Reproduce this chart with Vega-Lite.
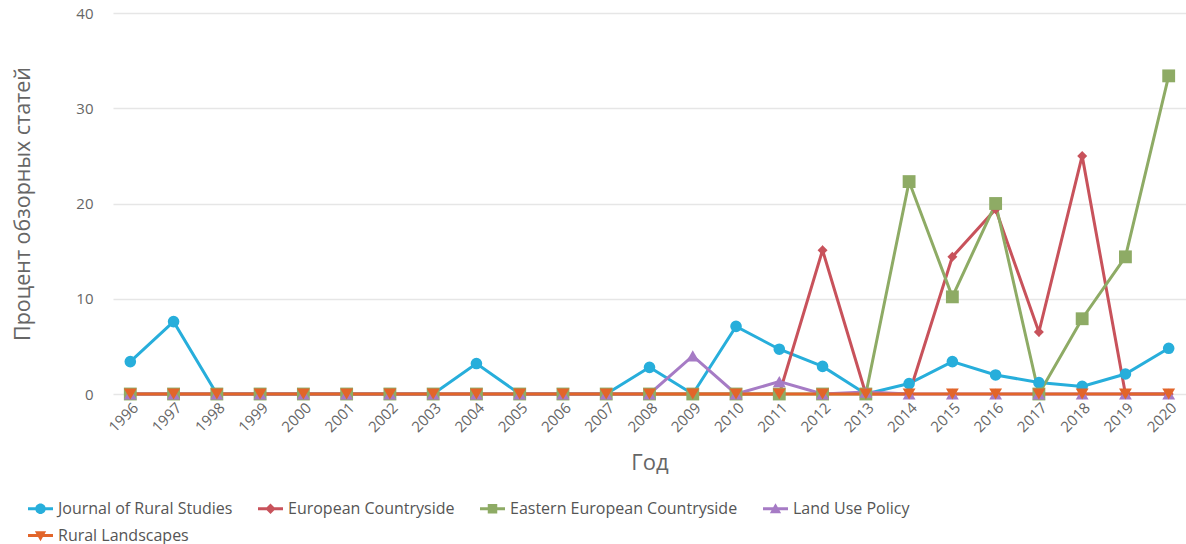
{
  "$schema": "https://vega.github.io/schema/vega-lite/v6.json",
  "width": 1073,
  "height": 381,
  "autosize": {"type": "none"},
  "padding": {"left": 113, "top": 13, "right": 0, "bottom": 150},
  "config": {
    "font": "Open Sans",
    "view": {"stroke": null},
    "axis": {"labelColor": "#666666", "titleColor": "#666666", "titleFontWeight": "normal"}
  },
  "datasets": {
    "rows": [
      {"series": "Journal of Rural Studies", "year": "1996", "value": 3.4},
      {"series": "Journal of Rural Studies", "year": "1997", "value": 7.6},
      {"series": "Journal of Rural Studies", "year": "1998", "value": 0},
      {"series": "Journal of Rural Studies", "year": "1999", "value": 0},
      {"series": "Journal of Rural Studies", "year": "2000", "value": 0},
      {"series": "Journal of Rural Studies", "year": "2001", "value": 0},
      {"series": "Journal of Rural Studies", "year": "2002", "value": 0},
      {"series": "Journal of Rural Studies", "year": "2003", "value": 0},
      {"series": "Journal of Rural Studies", "year": "2004", "value": 3.2},
      {"series": "Journal of Rural Studies", "year": "2005", "value": 0},
      {"series": "Journal of Rural Studies", "year": "2006", "value": 0},
      {"series": "Journal of Rural Studies", "year": "2007", "value": 0},
      {"series": "Journal of Rural Studies", "year": "2008", "value": 2.8},
      {"series": "Journal of Rural Studies", "year": "2009", "value": 0},
      {"series": "Journal of Rural Studies", "year": "2010", "value": 7.1},
      {"series": "Journal of Rural Studies", "year": "2011", "value": 4.7},
      {"series": "Journal of Rural Studies", "year": "2012", "value": 2.9},
      {"series": "Journal of Rural Studies", "year": "2013", "value": 0},
      {"series": "Journal of Rural Studies", "year": "2014", "value": 1.1},
      {"series": "Journal of Rural Studies", "year": "2015", "value": 3.4},
      {"series": "Journal of Rural Studies", "year": "2016", "value": 2.0},
      {"series": "Journal of Rural Studies", "year": "2017", "value": 1.2},
      {"series": "Journal of Rural Studies", "year": "2018", "value": 0.8},
      {"series": "Journal of Rural Studies", "year": "2019", "value": 2.1},
      {"series": "Journal of Rural Studies", "year": "2020", "value": 4.8},

      {"series": "European Countryside", "year": "1996", "value": 0},
      {"series": "European Countryside", "year": "1997", "value": 0},
      {"series": "European Countryside", "year": "1998", "value": 0},
      {"series": "European Countryside", "year": "1999", "value": 0},
      {"series": "European Countryside", "year": "2000", "value": 0},
      {"series": "European Countryside", "year": "2001", "value": 0},
      {"series": "European Countryside", "year": "2002", "value": 0},
      {"series": "European Countryside", "year": "2003", "value": 0},
      {"series": "European Countryside", "year": "2004", "value": 0},
      {"series": "European Countryside", "year": "2005", "value": 0},
      {"series": "European Countryside", "year": "2006", "value": 0},
      {"series": "European Countryside", "year": "2007", "value": 0},
      {"series": "European Countryside", "year": "2008", "value": 0},
      {"series": "European Countryside", "year": "2009", "value": 0},
      {"series": "European Countryside", "year": "2010", "value": 0},
      {"series": "European Countryside", "year": "2011", "value": 0},
      {"series": "European Countryside", "year": "2012", "value": 15.1},
      {"series": "European Countryside", "year": "2013", "value": 0},
      {"series": "European Countryside", "year": "2014", "value": 0},
      {"series": "European Countryside", "year": "2015", "value": 14.4},
      {"series": "European Countryside", "year": "2016", "value": 19.4},
      {"series": "European Countryside", "year": "2017", "value": 6.5},
      {"series": "European Countryside", "year": "2018", "value": 25.0},
      {"series": "European Countryside", "year": "2019", "value": 0},
      {"series": "European Countryside", "year": "2020", "value": 0},

      {"series": "Eastern European Countryside", "year": "1996", "value": 0},
      {"series": "Eastern European Countryside", "year": "1997", "value": 0},
      {"series": "Eastern European Countryside", "year": "1998", "value": 0},
      {"series": "Eastern European Countryside", "year": "1999", "value": 0},
      {"series": "Eastern European Countryside", "year": "2000", "value": 0},
      {"series": "Eastern European Countryside", "year": "2001", "value": 0},
      {"series": "Eastern European Countryside", "year": "2002", "value": 0},
      {"series": "Eastern European Countryside", "year": "2003", "value": 0},
      {"series": "Eastern European Countryside", "year": "2004", "value": 0},
      {"series": "Eastern European Countryside", "year": "2005", "value": 0},
      {"series": "Eastern European Countryside", "year": "2006", "value": 0},
      {"series": "Eastern European Countryside", "year": "2007", "value": 0},
      {"series": "Eastern European Countryside", "year": "2008", "value": 0},
      {"series": "Eastern European Countryside", "year": "2009", "value": 0},
      {"series": "Eastern European Countryside", "year": "2010", "value": 0},
      {"series": "Eastern European Countryside", "year": "2011", "value": 0},
      {"series": "Eastern European Countryside", "year": "2012", "value": 0},
      {"series": "Eastern European Countryside", "year": "2013", "value": 0},
      {"series": "Eastern European Countryside", "year": "2014", "value": 22.3},
      {"series": "Eastern European Countryside", "year": "2015", "value": 10.2},
      {"series": "Eastern European Countryside", "year": "2016", "value": 20.0},
      {"series": "Eastern European Countryside", "year": "2017", "value": 0},
      {"series": "Eastern European Countryside", "year": "2018", "value": 7.9},
      {"series": "Eastern European Countryside", "year": "2019", "value": 14.4},
      {"series": "Eastern European Countryside", "year": "2020", "value": 33.4},

      {"series": "Land Use Policy", "year": "1996", "value": 0},
      {"series": "Land Use Policy", "year": "1997", "value": 0},
      {"series": "Land Use Policy", "year": "1998", "value": 0},
      {"series": "Land Use Policy", "year": "1999", "value": 0},
      {"series": "Land Use Policy", "year": "2000", "value": 0},
      {"series": "Land Use Policy", "year": "2001", "value": 0},
      {"series": "Land Use Policy", "year": "2002", "value": 0},
      {"series": "Land Use Policy", "year": "2003", "value": 0},
      {"series": "Land Use Policy", "year": "2004", "value": 0},
      {"series": "Land Use Policy", "year": "2005", "value": 0},
      {"series": "Land Use Policy", "year": "2006", "value": 0},
      {"series": "Land Use Policy", "year": "2007", "value": 0},
      {"series": "Land Use Policy", "year": "2008", "value": 0},
      {"series": "Land Use Policy", "year": "2009", "value": 4.0},
      {"series": "Land Use Policy", "year": "2010", "value": 0},
      {"series": "Land Use Policy", "year": "2011", "value": 1.3},
      {"series": "Land Use Policy", "year": "2012", "value": 0},
      {"series": "Land Use Policy", "year": "2013", "value": 0.2},
      {"series": "Land Use Policy", "year": "2014", "value": 0},
      {"series": "Land Use Policy", "year": "2015", "value": 0},
      {"series": "Land Use Policy", "year": "2016", "value": 0},
      {"series": "Land Use Policy", "year": "2017", "value": 0},
      {"series": "Land Use Policy", "year": "2018", "value": 0},
      {"series": "Land Use Policy", "year": "2019", "value": 0},
      {"series": "Land Use Policy", "year": "2020", "value": 0},

      {"series": "Rural Landscapes", "year": "1996", "value": 0},
      {"series": "Rural Landscapes", "year": "1997", "value": 0},
      {"series": "Rural Landscapes", "year": "1998", "value": 0},
      {"series": "Rural Landscapes", "year": "1999", "value": 0},
      {"series": "Rural Landscapes", "year": "2000", "value": 0},
      {"series": "Rural Landscapes", "year": "2001", "value": 0},
      {"series": "Rural Landscapes", "year": "2002", "value": 0},
      {"series": "Rural Landscapes", "year": "2003", "value": 0},
      {"series": "Rural Landscapes", "year": "2004", "value": 0},
      {"series": "Rural Landscapes", "year": "2005", "value": 0},
      {"series": "Rural Landscapes", "year": "2006", "value": 0},
      {"series": "Rural Landscapes", "year": "2007", "value": 0},
      {"series": "Rural Landscapes", "year": "2008", "value": 0},
      {"series": "Rural Landscapes", "year": "2009", "value": 0},
      {"series": "Rural Landscapes", "year": "2010", "value": 0},
      {"series": "Rural Landscapes", "year": "2011", "value": 0},
      {"series": "Rural Landscapes", "year": "2012", "value": 0},
      {"series": "Rural Landscapes", "year": "2013", "value": 0},
      {"series": "Rural Landscapes", "year": "2014", "value": 0},
      {"series": "Rural Landscapes", "year": "2015", "value": 0},
      {"series": "Rural Landscapes", "year": "2016", "value": 0},
      {"series": "Rural Landscapes", "year": "2017", "value": 0},
      {"series": "Rural Landscapes", "year": "2018", "value": 0},
      {"series": "Rural Landscapes", "year": "2019", "value": 0},
      {"series": "Rural Landscapes", "year": "2020", "value": 0}
    ]
  },
  "data": {"name": "rows"},
  "encoding": {
    "x": {
      "field": "year", "type": "ordinal", "sort": null,
      "scale": {"type": "point", "padding": 0.4},
      "axis": {
        "title": "Год", "titleFontSize": 22, "titlePadding": 18,
        "labelAngle": -45, "labelFontSize": 15, "labelPadding": 6,
        "ticks": false, "domain": false, "grid": false
      }
    },
    "y": {
      "field": "value", "type": "quantitative",
      "scale": {"domain": [0, 40]},
      "axis": {
        "title": "Процент обзорных статей", "titleFontSize": 21.5, "titlePadding": 41,
        "values": [0, 10, 20, 30, 40], "labelFontSize": 15, "labelPadding": 20,
        "ticks": false, "domain": false, "gridColor": "#e6e6e6", "gridWidth": 1.3
      }
    },
    "color": {
      "field": "series", "type": "nominal",
      "scale": {
        "domain": ["Journal of Rural Studies", "European Countryside", "Eastern European Countryside", "Land Use Policy", "Rural Landscapes"],
        "range": ["#27AEDB", "#C8525B", "#8EAB65", "#A67BC5", "#E2652A"]
      },
      "legend": {
        "orient": "none", "legendX": -85, "legendY": 483,
        "direction": "horizontal", "columns": 4, "title": null,
        "symbolSize": 625, "symbolStrokeWidth": 0,
        "labelFontSize": 16, "labelColor": "#555555", "labelLimit": 400, "labelOffset": 5,
        "columnPadding": 25, "rowPadding": 6,
        "encode": {
          "symbols": {
            "update": {
              "size": {"value": 625},
              "strokeWidth": {"value": 0},
              "shape": {"signal": "datum.value === 'Journal of Rural Studies' ? 'M-1,-0.12H1V0.12H-1Z M-0.42,0A0.42,0.42 0 1,1 0.42,0A0.42,0.42 0 1,1 -0.42,0Z' : datum.value === 'European Countryside' ? 'M-1,-0.12H1V0.12H-1Z M0,-0.42L0.42,0L0,0.42L-0.42,0Z' : datum.value === 'Eastern European Countryside' ? 'M-1,-0.12H1V0.12H-1Z M-0.38,-0.38H0.38V0.38H-0.38Z' : datum.value === 'Land Use Policy' ? 'M-1,-0.12H1V0.12H-1Z M0,-0.45L0.45,0.35H-0.45Z' : 'M-1,-0.12H1V0.12H-1Z M-0.45,-0.35H0.45L0,0.45Z'"}
            }
          }
        }
      }
    }
  },
  "layer": [
    {"mark": {"type": "line", "strokeWidth": 3}},
    {
      "transform": [{"filter": "datum.series === 'Journal of Rural Studies'"}],
      "mark": {"type": "point", "filled": true, "opacity": 1, "shape": "circle", "size": 135}
    },
    {
      "transform": [{"filter": "datum.series === 'European Countryside'"}],
      "mark": {"type": "point", "filled": true, "opacity": 1, "shape": "diamond", "size": 100}
    },
    {
      "transform": [{"filter": "datum.series === 'Eastern European Countryside'"}],
      "mark": {"type": "point", "filled": true, "opacity": 1, "shape": "square", "size": 165}
    },
    {
      "transform": [{"filter": "datum.series === 'Land Use Policy'"}],
      "mark": {"type": "point", "filled": true, "opacity": 1, "shape": "triangle-up", "size": 165}
    },
    {
      "transform": [{"filter": "datum.series === 'Rural Landscapes'"}],
      "mark": {"type": "point", "filled": true, "opacity": 1, "shape": "triangle-down", "size": 165}
    }
  ]
}
